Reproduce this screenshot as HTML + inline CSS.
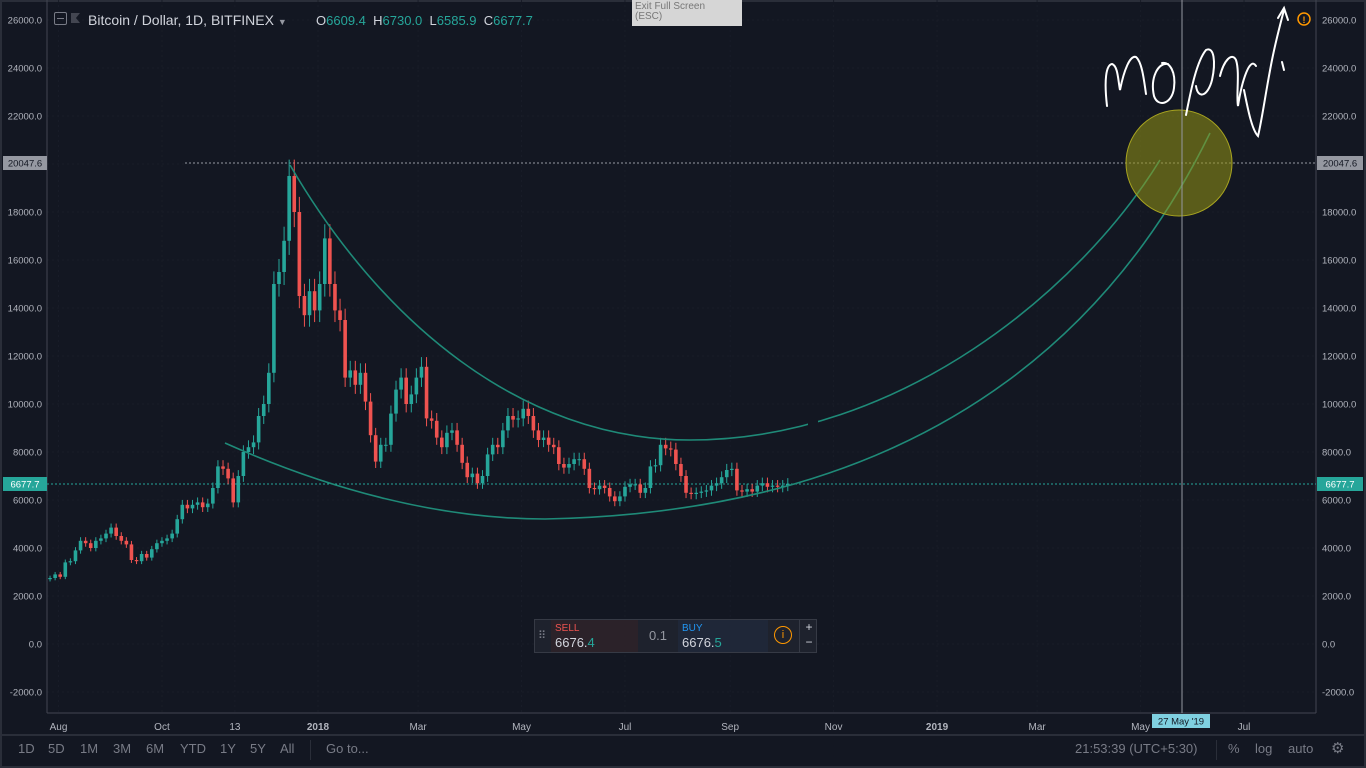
<!DOCTYPE html>
<html><head><meta charset="utf-8"><style>
html,body{margin:0;padding:0;background:#2a2e39;}
#wrap{position:relative;width:1366px;height:768px;overflow:hidden;background:#131722;font-family:"Liberation Sans",sans-serif;}
svg text{font-family:"Liberation Sans",sans-serif;}
.tb{position:absolute;top:741px;font-size:13px;color:#787b86;}
</style></head><body>
<div id="wrap">
<svg id="chart" width="1366" height="768">
  <rect x="0" y="0" width="1366" height="768" fill="#131722" stroke="#2a2e39" stroke-width="4"/>
  <g id="grid"></g>
  <g id="yaxisL"></g>
  <g id="yaxisR"></g>
  <line x1="47" y1="0" x2="47" y2="713" stroke="#434651"/>
  <line x1="1316" y1="0" x2="1316" y2="713" stroke="#434651"/>
  <line x1="47" y1="713" x2="1316" y2="713" stroke="#434651"/>
  <line x1="0" y1="735" x2="1366" y2="735" stroke="#2a2e39" stroke-width="2"/>
  <g id="xaxis"></g>
  <line x1="185" y1="163" x2="1316" y2="163" stroke="#9598a1" stroke-dasharray="2,2"/>
  <line x1="47" y1="484" x2="1316" y2="484" stroke="#26a69a" stroke-dasharray="2,2"/>
  <g id="candles"></g>
  <path d="M290,165 C380,320 520,440 690,440 C900,440 1080,290 1160,160" fill="none" stroke="#1f8a78" stroke-width="1.6"/>
  <path d="M225,443 C330,490 440,519 545,519 C750,515 1050,460 1210,133" fill="none" stroke="#1f8a78" stroke-width="1.6"/>
  <rect x="808" y="420" width="10" height="10" fill="#131722"/>
  <rect x="862" y="462" width="10" height="9" fill="#131722"/>
  <circle cx="1179" cy="163" r="53" fill="rgba(150,150,20,0.55)" stroke="#a8a420" stroke-width="1"/>
  <line x1="1182" y1="0" x2="1182" y2="713" stroke="#9598a1" stroke-width="1"/>
  <g fill="none" stroke="#ffffff" stroke-width="2" stroke-linecap="round">
    <path d="M1107,106 C1104,80 1106,65 1112,64 C1118,66 1118,80 1120,90 C1124,70 1130,55 1136,57 C1142,62 1144,80 1146,94"/>
    <path d="M1168,64 C1158,62 1150,78 1154,96 C1158,108 1172,104 1174,88 C1176,72 1170,62 1162,63"/>
    <path d="M1186,115 C1190,95 1196,62 1206,50 C1214,46 1216,62 1212,80 C1208,96 1198,100 1196,86"/>
    <path d="M1220,76 C1224,60 1232,52 1236,60 C1240,72 1236,96 1238,106 C1242,80 1250,56 1256,66"/>
    <path d="M1244,90 C1248,110 1252,130 1258,136 C1262,120 1266,90 1272,60 C1276,40 1280,25 1284,10"/>
    <path d="M1278,18 L1284,8 L1288,20"/>
    <path d="M1282,62 L1284,70"/>
  </g>
  <circle cx="1304" cy="19" r="6" fill="none" stroke="#ff9800" stroke-width="1.5"/>
  <text x="1304" y="23" font-size="9" fill="#ff9800" text-anchor="middle" font-weight="bold">!</text>
  <g id="labels"></g>
</svg>

<div style="position:absolute;left:54px;top:12px;width:11px;height:11px;border:1px solid #787b86;border-radius:2px;"><div style="position:absolute;left:2px;top:5px;width:7px;height:1px;background:#787b86"></div></div>
<div style="position:absolute;left:71px;top:13px;width:9px;height:10px;background:#434651;clip-path:polygon(0 0,100% 0,55% 50%,100% 100%,0 100%);"></div>
<div style="position:absolute;left:88px;top:12px;font-size:14px;color:#d1d4dc;white-space:nowrap;">Bitcoin / Dollar, 1D, BITFINEX <span style="font-size:9px;color:#9598a1">▼</span></div>
<div style="position:absolute;left:316px;top:13px;font-size:13px;color:#d1d4dc;white-space:nowrap;word-spacing:0;">O<span style="color:#26a69a">6609.4</span>&nbsp; H<span style="color:#26a69a">6730.0</span>&nbsp; L<span style="color:#26a69a">6585.9</span>&nbsp; C<span style="color:#26a69a">6677.7</span></div>

<div style="position:absolute;left:632px;top:0;width:110px;height:26px;background:#d6d6d6;color:#777;font-size:10px;line-height:10px;padding:2px 0 0 3px;box-sizing:border-box;">Exit Full Screen<br>(ESC)</div>

<div style="position:absolute;left:534px;top:619px;width:283px;height:34px;background:#1e222d;border:1px solid #363a45;box-sizing:border-box;font-size:13px;">
  <div style="position:absolute;left:3px;top:9px;color:#787b86;font-size:11px;letter-spacing:-1px;">⠿</div>
  <div style="position:absolute;left:16px;top:0;width:87px;height:32px;background:#2b2229;"><div style="position:absolute;left:4px;top:3px;font-size:10px;color:#ef5350;">SELL</div><div style="position:absolute;left:4px;top:15px;color:#d1d4dc;">6676.<span style="color:#26a69a">4</span></div></div>
  <div style="position:absolute;left:103px;top:0;width:40px;height:32px;color:#9598a1;text-align:center;line-height:32px;">0.1</div>
  <div style="position:absolute;left:143px;top:0;width:90px;height:32px;background:#1f2738;"><div style="position:absolute;left:4px;top:3px;font-size:10px;color:#2196f3;">BUY</div><div style="position:absolute;left:4px;top:15px;color:#d1d4dc;">6676.<span style="color:#26a69a">5</span></div></div>
  <div style="position:absolute;left:239px;top:6px;width:16px;height:16px;border:1.5px solid #ff9800;border-radius:50%;color:#ff9800;font-size:11px;text-align:center;line-height:16px;">i</div>
  <div style="position:absolute;left:264px;top:0;width:18px;height:32px;border-left:1px solid #363a45;color:#d1d4dc;text-align:center;font-size:12px;line-height:15px;">+<br>−</div>
</div>

<div class="tb" style="left:18px">1D</div>
<div class="tb" style="left:48px">5D</div>
<div class="tb" style="left:80px">1M</div>
<div class="tb" style="left:113px">3M</div>
<div class="tb" style="left:146px">6M</div>
<div class="tb" style="left:180px">YTD</div>
<div class="tb" style="left:220px">1Y</div>
<div class="tb" style="left:250px">5Y</div>
<div class="tb" style="left:280px">All</div>
<div style="position:absolute;left:310px;top:740px;width:1px;height:20px;background:#2a2e39"></div>
<div class="tb" style="left:326px">Go to...</div>
<div class="tb" style="left:1075px">21:53:39 (UTC+5:30)</div>
<div style="position:absolute;left:1216px;top:740px;width:1px;height:20px;background:#2a2e39"></div>
<div class="tb" style="left:1228px">%</div>
<div class="tb" style="left:1255px">log</div>
<div class="tb" style="left:1288px">auto</div>
<div class="tb" style="left:1331px;font-size:15px;top:739px">⚙</div>
</div>

<script>
const NS = "http://www.w3.org/2000/svg";
// data
const startDayOffset = -158; // days from 2018-01-01 (27 Jul 2017)
const stepDays = 3;
const closes = [2750,2900,2800,3400,3450,3900,4300,4200,4000,4300,4400,4600,4850,4500,4300,4150,3500,3450,3750,3600,
3950,4200,4300,4400,4600,5200,5800,5650,5800,5900,5700,5850,6500,7400,7300,6900,5900,7000,8000,8200,
8400,9500,10000,11300,15000,15500,16800,19500,18000,14500,13700,14700,13900,15000,16900,15000,13900,13500,11100,11400,
10800,11300,10100,8700,7600,8300,8300,9600,10600,11100,10000,10400,11100,11550,9400,9300,8600,8200,8800,8900,
8300,7550,6950,7100,6700,7000,7900,8300,8200,8900,9500,9350,9400,9800,9500,8900,8500,8600,8300,8200,
7500,7350,7500,7700,7700,7300,6500,6450,6600,6500,6150,5950,6150,6550,6650,6650,6300,6500,7400,7450,
8300,8150,8100,7500,7000,6300,6250,6300,6350,6400,6600,6700,6950,7250,7300,6400,6350,6450,6350,6600,
6700,6550,6600,6550,6600,6678];
const firstOpen = 2700;
const yTicks = [26000,24000,22000,20000,18000,16000,14000,12000,10000,8000,6000,4000,2000,0,-2000];
const xTickLabels = ["Aug","Oct","13","2018","Mar","May","Jul","Sep","Nov","2019","Mar","May","Jul"];
const xTickDays = [-153,-92,-49,0,59,120,181,243,304,365,424,485,546];

function yScale(v){ return 644 - v*0.024; }
function xScale(d){ return 318 + d*1.696; }

const grid = document.getElementById('grid');
const yL = document.getElementById('yaxisL');
const yR = document.getElementById('yaxisR');
yTicks.forEach(v=>{
  const y = yScale(v);
  const gl = document.createElementNS(NS,'line');
  gl.setAttribute('x1',47);gl.setAttribute('x2',1316);gl.setAttribute('y1',y);gl.setAttribute('y2',y);
  gl.setAttribute('stroke','#191d28');gl.setAttribute('stroke-dasharray','2,3');
  
  
  grid.appendChild(gl);
  [[yL,42,'end'],[yR,1322,'start']].forEach(([g,x,a])=>{
    const t = document.createElementNS(NS,'text');
    t.setAttribute('x',x);t.setAttribute('y',y+3.5);t.setAttribute('font-size','9.5');
    t.setAttribute('fill','#b2b5be');t.setAttribute('text-anchor',a);
    t.textContent = v.toFixed(1);
    
    
    g.appendChild(t);
  });
});
const xa = document.getElementById('xaxis');
xTickLabels.forEach((lab,i)=>{
  const x = xScale(xTickDays[i]);
  const gl = document.createElementNS(NS,'line');
  gl.setAttribute('x1',x);gl.setAttribute('x2',x);gl.setAttribute('y1',0);gl.setAttribute('y2',713);
  gl.setAttribute('stroke','#191d28');gl.setAttribute('stroke-dasharray','2,3');
  
  
  grid.appendChild(gl);
  const t = document.createElementNS(NS,'text');
  t.setAttribute('x',x);t.setAttribute('y',730);t.setAttribute('font-size','10');
  t.setAttribute('fill','#b2b5be');t.setAttribute('text-anchor','middle');
  if(lab==='2018'||lab==='2019') t.setAttribute('font-weight','bold');
  t.textContent = lab;
  
  
  xa.appendChild(t);
});

const cg = document.getElementById('candles');
let prev = firstOpen;
closes.forEach((c,i)=>{
  const o = prev; prev = c;
  const x = xScale(startDayOffset + i*stepDays);
  const up = c >= o;
  const col = up ? '#26a69a' : '#ef5350';
  const hi = Math.max(o,c)*1.035, lo = Math.min(o,c)*0.965;
  const w = document.createElementNS(NS,'line');
  w.setAttribute('x1',x);w.setAttribute('x2',x);w.setAttribute('y1',yScale(hi));w.setAttribute('y2',yScale(lo));
  w.setAttribute('stroke',col);w.setAttribute('stroke-width','1');
  
  
  cg.appendChild(w);
  const r = document.createElementNS(NS,'rect');
  const yt = yScale(Math.max(o,c)), yb = yScale(Math.min(o,c));
  r.setAttribute('x',x-1.8);r.setAttribute('width',3.6);r.setAttribute('y',yt);r.setAttribute('height',Math.max(1,yb-yt));
  r.setAttribute('fill',col);
  
  
  cg.appendChild(r);
});

const lg = document.getElementById('labels');
function tag(x,y,w,bg,txt,fg,name){
  const r=document.createElementNS(NS,'rect');
  r.setAttribute('x',x);r.setAttribute('y',y-7);r.setAttribute('width',w);r.setAttribute('height',14);r.setAttribute('fill',bg);
  
  
  lg.appendChild(r);
  const t=document.createElementNS(NS,'text');
  t.setAttribute('x',x+w/2);t.setAttribute('y',y+3.5);t.setAttribute('font-size','9.5');t.setAttribute('fill',fg);t.setAttribute('text-anchor','middle');
  t.textContent=txt;
  
  
  lg.appendChild(t);
}
tag(3,163,44,'#9598a1','20047.6','#131722','left-high-label');
tag(1317,163,46,'#9598a1','20047.6','#131722','right-high-label');
tag(3,484,44,'#26a69a','6677.7','#ffffff','left-last-label');
tag(1317,484,46,'#26a69a','6677.7','#ffffff','right-last-label');
tag(1152,721,58,'#7fd0e0','27 May \'19','#131722','crosshair-date-label');
</script>
</body></html>
